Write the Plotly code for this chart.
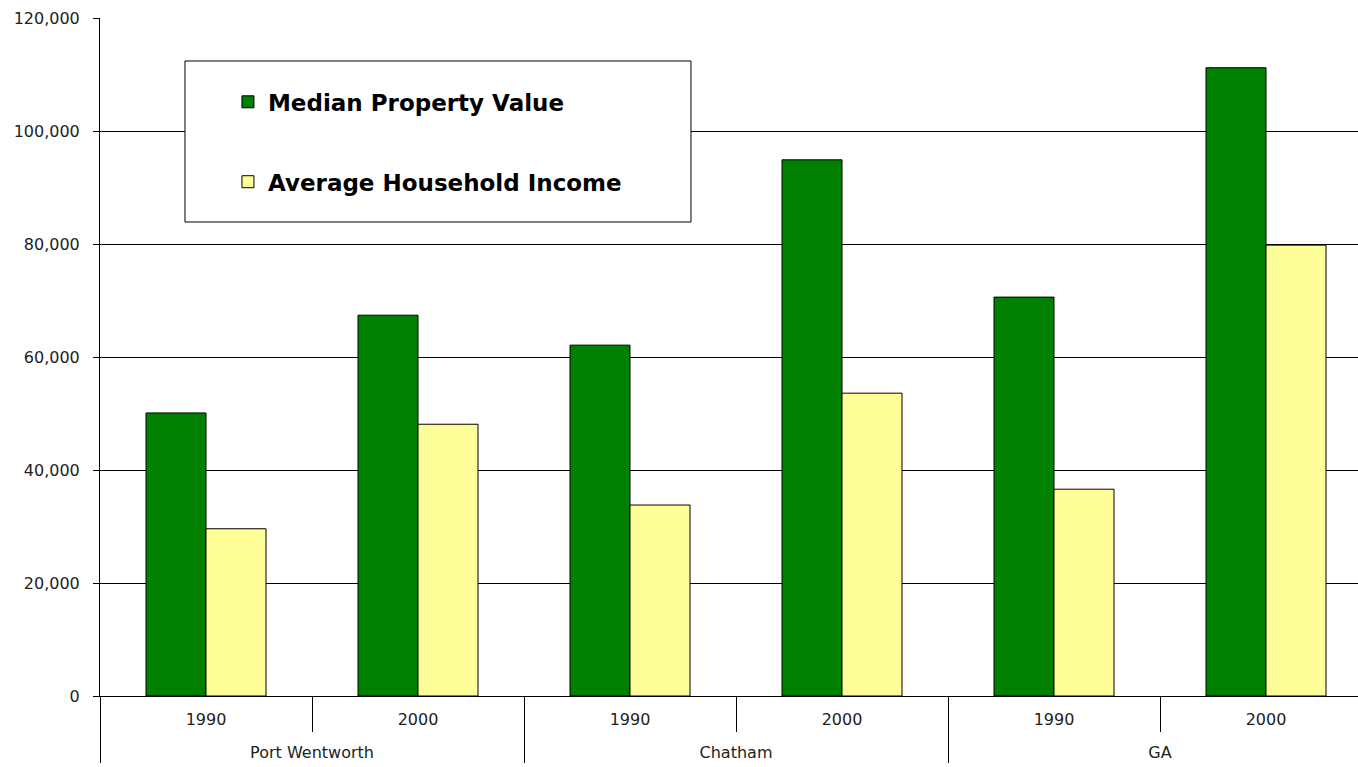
import plotly.graph_objects as go

places = ["Port Wentworth", "Port Wentworth", "Chatham", "Chatham", "GA", "GA"]
years = ["1990", "2000", "1990", "2000", "1990", "2000"]
median_property_value = [50100, 67400, 62100, 94900, 70600, 111200]
avg_household_income = [29600, 48100, 33800, 53600, 36600, 79800]

FONT = "DejaVu Sans"

# leading line break pushes the group labels a bit further below the years
place_labels = ["<br>" + p for p in places]

fig = go.Figure()
fig.add_trace(go.Bar(
    x=[place_labels, years], y=median_property_value, name="Median Property Value",
    marker=dict(color="#008000", line=dict(color="black", width=1)),
    legendgroup="a",
))
fig.add_trace(go.Bar(
    x=[place_labels, years], y=avg_household_income, name="Average Household Income",
    marker=dict(color="#FFFF99", line=dict(color="black", width=1)),
    legendgroup="b",
))

# legend frame
fig.add_shape(type="rect", xref="paper", yref="paper",
              x0=0.0668, x1=0.4646, y0=0.6991, y1=0.9366,
              line=dict(color="black", width=1), fillcolor="white", layer="above")

fig.update_layout(
    width=1372, height=767,
    margin=dict(l=100, r=0, t=18, b=71, autoexpand=False),
    paper_bgcolor="white", plot_bgcolor="white",
    barmode="group", bargap=0.434, bargroupgap=0,
    font=dict(family=FONT, size=16, color="#222222"),
    showlegend=True,
    legend=dict(x=0.1006, y=0.908, xanchor="left", yanchor="top",
                bgcolor="rgba(0,0,0,0)", borderwidth=0,
                font=dict(family=FONT, size=23, color="black", weight="bold"),
                tracegroupgap=47, traceorder="grouped"),
    xaxis=dict(type="multicategory", showline=True, linecolor="black", linewidth=1,
               ticks="outside", tickson="boundaries", ticklen=35, tickcolor="black",
               showdividers=True, dividercolor="black", dividerwidth=1,
               automargin=False, ticklabelstandoff=9,
               showgrid=False, tickfont=dict(family=FONT, size=16, color="#222222")),
    yaxis=dict(range=[0, 120000], tickvals=[0, 20000, 40000, 60000, 80000, 100000, 120000],
               tickformat=",d", showline=True, linecolor="black", linewidth=1,
               ticks="outside", ticklen=6, tickcolor="black",
               showgrid=True, gridcolor="black", gridwidth=1, zeroline=False,
               ticklabelstandoff=10, automargin=False,
               tickfont=dict(family=FONT, size=16, color="#222222")),
)

fig.write_html("out.html", config={"displayModeBar": False},
               post_script="document.body.style.margin='0';document.body.style.overflow='hidden';")
